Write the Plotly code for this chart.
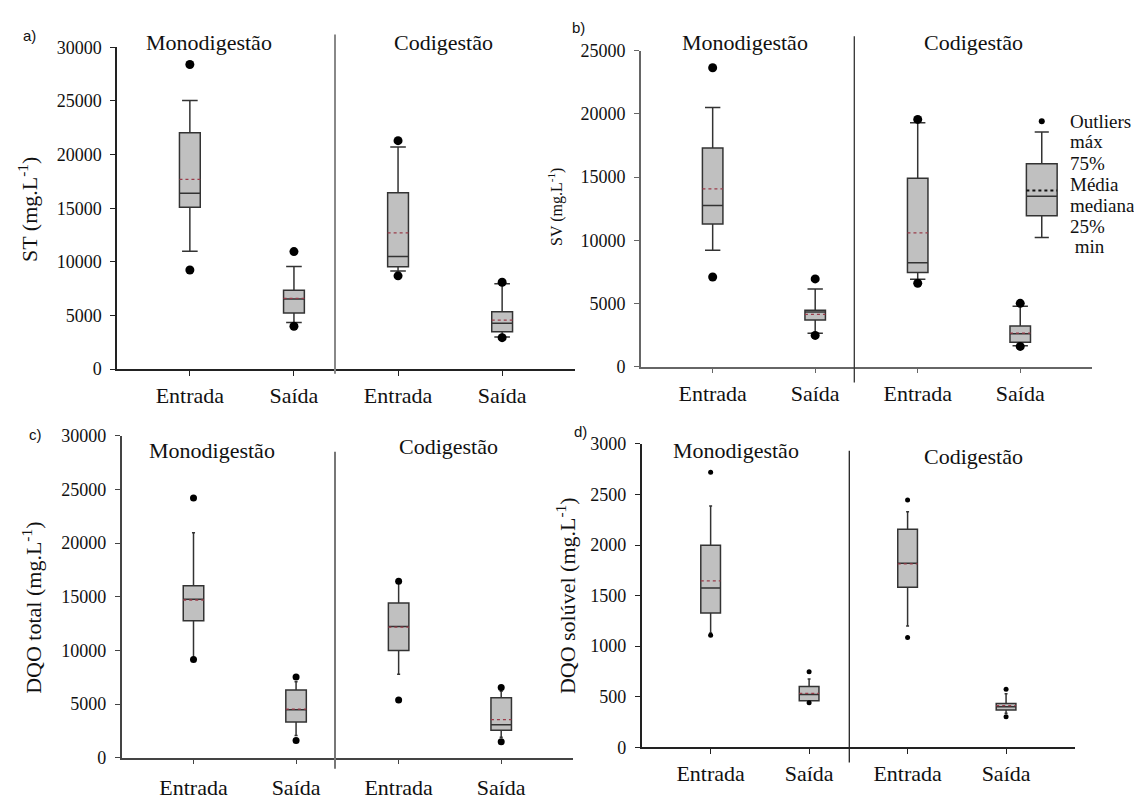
import plotly.graph_objects as go

W, H = 1134, 807

categories = ["Entrada", "Saída", "Entrada", "Saída"]
positions = [0, 1, 2, 3]

# a) ST
st_low = [11000, 4350, 9150, 3000]
st_q1 = [15100, 5240, 9550, 3480]
st_median = [16400, 6550, 10500, 4270]
st_mean = [17700, 6600, 12700, 4570]
st_q3 = [22050, 7360, 16450, 5360]
st_high = [25050, 9570, 20700, 7970]
st_outliers = [[28400, 9240], [10960, 4000], [21300, 8700], [8100, 2940]]

# b) SV
sv_low = [9200, 2650, 6910, 1650]
sv_q1 = [11280, 3700, 7450, 1930]
sv_median = [12750, 4320, 8220, 2600]
sv_mean = [14060, 4140, 10590, 2650]
sv_q3 = [17300, 4470, 14900, 3210]
sv_high = [20500, 6140, 19300, 4780]
sv_outliers = [[23650, 7090], [6940, 2470], [19560, 6600], [5010, 1600]]

# c) DQO total
dqt_low = [9300, 2070, 7770, 1900]
dqt_q1 = [12760, 3330, 9990, 2550]
dqt_median = [14770, 4470, 12240, 3080]
dqt_mean = [14700, 4530, 12180, 3550]
dqt_q3 = [16030, 6320, 14430, 5600]
dqt_high = [20960, 7090, 16300, 6200]
dqt_outliers = [[24200, 9150], [7520, 1600], [16460, 5390], [6550, 1480]]

# d) DQO solúvel
dqs_low = [1130, 455, 1200, 337]
dqs_q1 = [1328, 459, 1582, 369]
dqs_median = [1575, 523, 1819, 401]
dqs_mean = [1646, 533, 1813, 411]
dqs_q3 = [1999, 600, 2156, 433]
dqs_high = [2387, 674, 2330, 529]
dqs_outliers = [[2721, 1107], [748, 440], [2445, 1085], [574, 302]]

# key box drawn inside panel b
key_pos = 3.21
key_low, key_q1, key_median, key_mean, key_q3, key_high = 10220, 11940, 13480, 13940, 16050, 18570
key_outlier = 19420
key_labels = ["Outliers", "máx", "75%", "Média", "mediana", "25%", " min"]

SERIF = "Liberation Serif, Times New Roman, serif"
SANS = "Liberation Sans, Arial, sans-serif"


def px(x):
    return x / W


def py(y):
    return 1 - y / H


panels = [
    dict(ax="", low=st_low, q1=st_q1, med=st_median, mean=st_mean, q3=st_q3, high=st_high,
         out=st_outliers, yrange=30000, dtick=5000, dom_x=(117, 575), dom_y=(38.3, 368.3),
         axcolor="#222222", ww=0.75, msize=9, standoff=1),
    dict(ax="2", low=sv_low, q1=sv_q1, med=sv_median, mean=sv_mean, q3=sv_q3, high=sv_high,
         out=sv_outliers, yrange=25000, dtick=5000, dom_x=(640.9, 1092), dom_y=(41.7, 365.7),
         axcolor="#666666", ww=0.75, msize=9, standoff=1),
    dict(ax="3", low=dqt_low, q1=dqt_q1, med=dqt_median, mean=dqt_mean, q3=dqt_q3, high=dqt_high,
         out=dqt_outliers, yrange=30000, dtick=5000, dom_x=(121.7, 573), dom_y=(436.7, 766.7),
         axcolor="#444444", ww=0.15, msize=7, standoff=4),
    dict(ax="4", low=dqs_low, q1=dqs_q1, med=dqs_median, mean=dqs_mean, q3=dqs_q3, high=dqs_high,
         out=dqs_outliers, yrange=3000, dtick=500, dom_x=(641.7, 1075), dom_y=(445, 756),
         axcolor="#222222", ww=0.15, msize=5, standoff=1),
]

BOX_W = 0.2
fig = go.Figure()
layout = {}

for p in panels:
    xa = "x" + p["ax"]
    ya = "y" + p["ax"]
    fig.add_trace(go.Box(
        x=positions, q1=p["q1"], median=p["med"], q3=p["q3"],
        lowerfence=p["low"], upperfence=p["high"],
        width=BOX_W, whiskerwidth=p["ww"], boxpoints=False,
        fillcolor="#c0c0c0", line=dict(color="#333333", width=1.5),
        xaxis=xa, yaxis=ya, showlegend=False, hoverinfo="skip",
    ))
    # mean as dotted line across each box
    mx, my = [], []
    for xpos, m in zip(positions, p["mean"]):
        mx += [xpos - BOX_W / 2, xpos + BOX_W / 2, None]
        my += [m, m, None]
    fig.add_trace(go.Scatter(
        x=mx, y=my, mode="lines", line=dict(color="#9a3c4a", width=1.3, dash="dot"),
        xaxis=xa, yaxis=ya, showlegend=False, hoverinfo="skip",
    ))
    ox, oy = [], []
    for xpos, pts in zip(positions, p["out"]):
        for v in pts:
            ox.append(xpos)
            oy.append(v)
    fig.add_trace(go.Scatter(
        x=ox, y=oy, mode="markers", marker=dict(color="black", size=p["msize"]),
        xaxis=xa, yaxis=ya, showlegend=False, hoverinfo="skip",
    ))

    axis_common = dict(
        showline=True, linecolor=p["axcolor"], linewidth=1.5,
        ticks="outside", ticklen=5, tickwidth=1.2, tickcolor=p["axcolor"],
        showgrid=False, zeroline=False,
    )
    layout["xaxis" + p["ax"]] = dict(
        axis_common, domain=[px(p["dom_x"][0]), px(p["dom_x"][1])], anchor=ya,
        range=[-0.7, 3.7], tickvals=positions, ticktext=categories,
        tickfont=dict(family=SERIF, size=22, color="#111111"),
        ticklabelstandoff=p["standoff"],
    )
    layout["yaxis" + p["ax"]] = dict(
        axis_common, domain=[py(p["dom_y"][1]), py(p["dom_y"][0])], anchor=xa,
        range=[0, p["yrange"]], dtick=p["dtick"], tick0=0, tickformat="d",
        tickfont=dict(family=SERIF, size=18, color="#111111"), ticklabelstandoff=5,
    )

# key box in panel b
fig.add_trace(go.Box(
    x=[key_pos], q1=[key_q1], median=[key_median], q3=[key_q3],
    lowerfence=[key_low], upperfence=[key_high],
    width=0.30, whiskerwidth=0.46, boxpoints=False,
    fillcolor="#c0c0c0", line=dict(color="#333333", width=1.5),
    xaxis="x2", yaxis="y2", showlegend=False, hoverinfo="skip",
))
fig.add_trace(go.Scatter(
    x=[key_pos - 0.15, key_pos + 0.15], y=[key_mean, key_mean], mode="lines",
    line=dict(color="#111111", width=2, dash="dot"),
    xaxis="x2", yaxis="y2", showlegend=False, hoverinfo="skip",
))
fig.add_trace(go.Scatter(
    x=[key_pos], y=[key_outlier], mode="markers", marker=dict(color="black", size=6),
    xaxis="x2", yaxis="y2", showlegend=False, hoverinfo="skip",
))

annotations = []


def text(x, y, s, size=22, family=SERIF, angle=0, xanchor="center"):
    annotations.append(dict(
        x=px(x), y=py(y), xref="paper", yref="paper", text=s, showarrow=False,
        font=dict(family=family, size=size, color="#111111"), textangle=angle,
        xanchor=xanchor, yanchor="middle",
    ))


# group headings
text(209, 33, "Monodigestão")
text(443, 33, "Codigestão")
text(745, 33, "Monodigestão")
text(973, 33, "Codigestão")
text(212, 452, "Monodigestão")
text(448, 448, "Codigestão")
text(736, 452, "Monodigestão")
text(973, 458, "Codigestão")

# panel letters
text(29, 26, "a)", size=15, family=SANS)
text(578, 18, "b)", size=15, family=SANS)
text(35, 435, "c)", size=15, family=SANS)
text(580, 432, "d)", size=15, family=SANS)

# axis titles
text(28, 205, "ST (mg.L<sup>-1</sup>)", size=22, angle=-90)
text(556, 202, "SV (mg.L<sup>-1</sup>)", size=16, angle=-90)
text(32, 613, "DQO total (mg.L<sup>-1</sup>)", size=22, angle=-90)
text(566, 601, "DQO solúvel (mg.L<sup>-1</sup>)", size=22, angle=-90)

# key labels
key_y = [114, 135, 157, 179, 200.5, 221.7, 242]
for lab, yy in zip(key_labels, key_y):
    text(1068, yy, lab, size=19, xanchor="left")

shapes = []


def divider(x, y0, y1, color, width):
    shapes.append(dict(type="line", xref="paper", yref="paper", x0=px(x), x1=px(x),
                       y0=py(y0), y1=py(y1), line=dict(color=color, width=width)))


divider(335, 373, 25, "#888888", 2)
divider(854.3, 382, 27, "#333333", 1.3)
divider(335, 778, 453, "#777777", 2)
divider(849.3, 771.7, 452, "#222222", 1.3)

fig.update_layout(
    width=W, height=H, margin=dict(l=0, r=0, t=0, b=0),
    paper_bgcolor="white", plot_bgcolor="white",
    annotations=annotations, shapes=shapes, boxmode="overlay",
    **layout,
)

fig.write_html("out.html")
